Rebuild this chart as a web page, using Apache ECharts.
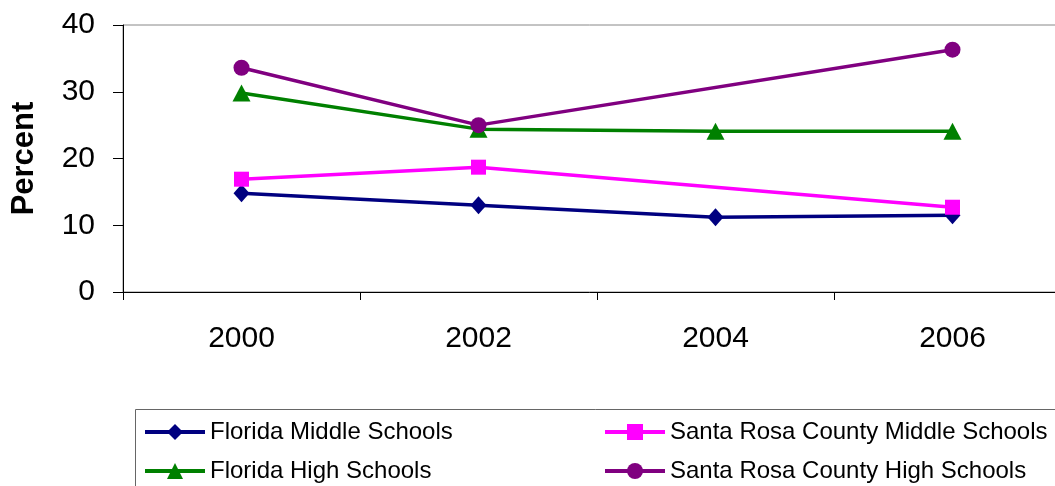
<!DOCTYPE html>
<html>
<head>
<meta charset="utf-8">
<script src="https://cdn.jsdelivr.net/npm/echarts@6/dist/echarts.min.js"></script>
<style>html,body{margin:0;padding:0;background:#fff}#c{width:1055px;height:486px}</style>
</head>
<body>
<div id="c"></div>
<script>
var years = ['2000', '2002', '2004', '2006'];
var floridaMiddle = [14.8, 13.0, 11.2, 11.5];
var santaRosaMiddle = [16.9, 18.7, null, 12.7];
var floridaHigh = [29.8, 24.4, 24.1, 24.1];
var santaRosaHigh = [33.6, 25.0, null, 36.3];
var yTicks = { min: 0, max: 40, interval: 10 };

var FONT = '"Liberation Sans", Arial, sans-serif';
var chart = echarts.init(document.getElementById('c'));

function mkSeries(name, data, color, symbol, size) {
  return {
    name: name, type: 'line', data: data, connectNulls: true,
    symbol: symbol, symbolSize: size,
    lineStyle: { color: color, width: 3.5 },
    itemStyle: { color: color },
    emphasis: { disabled: true },
    animation: false
  };
}

function mkLegend(name, left, top) {
  return {
    orient: 'horizontal', left: left, top: top, itemWidth: 60, itemHeight: 20,
    lineStyle: { width: 4 },
    textStyle: { color: '#000', fontSize: 24, fontFamily: FONT, lineHeight: 22 },
    selectedMode: false,
    data: [name]
  };
}

chart.setOption({
  backgroundColor: '#fff',
  animation: false,
  grid: { left: 123, top: 25, right: -16, bottom: 194, show: true, borderColor: '#888', borderWidth: 1, outerBoundsMode: 'none', containLabel: false },
  xAxis: {
    type: 'category', data: years, boundaryGap: true,
    axisLine: { lineStyle: { color: '#000', width: 1 } },
    axisTick: { show: true, length: 8, lineStyle: { color: '#000' } },
    axisLabel: { color: '#000', fontSize: 30, fontFamily: FONT, margin: 32 },
    splitLine: { show: false }
  },
  yAxis: {
    type: 'value', min: yTicks.min, max: yTicks.max, interval: yTicks.interval,
    name: 'Percent', nameLocation: 'middle', nameGap: 83,
    nameTextStyle: { color: '#000', fontSize: 31, fontWeight: 'bold', fontFamily: FONT },
    axisLine: { show: true, lineStyle: { color: '#000', width: 1 } },
    axisTick: { show: true, length: 10, lineStyle: { color: '#000' } },
    axisLabel: { color: '#000', fontSize: 30, fontFamily: FONT, margin: 28 },
    splitLine: { show: false }
  },
  legend: [
    mkLegend('Florida Middle Schools', 138, 415),
    mkLegend('Florida High Schools', 138, 454),
    mkLegend('Santa Rosa County Middle Schools', 598, 415),
    mkLegend('Santa Rosa County High Schools', 598, 454)
  ],
  graphic: [
    { type: 'rect', shape: { x: 135.5, y: 409.5, width: 1000, height: 200 },
      style: { fill: null, stroke: '#666', lineWidth: 1 }, z: -1 }
  ],
  series: [
    mkSeries('Florida Middle Schools', floridaMiddle, '#000080', 'diamond', [16, 18]),
    mkSeries('Santa Rosa County Middle Schools', santaRosaMiddle, '#FF00FF', 'rect', 15),
    mkSeries('Florida High Schools', floridaHigh, '#008000', 'triangle', [18, 17]),
    mkSeries('Santa Rosa County High Schools', santaRosaHigh, '#800080', 'circle', 16)
  ]
});
</script>
</body>
</html>
